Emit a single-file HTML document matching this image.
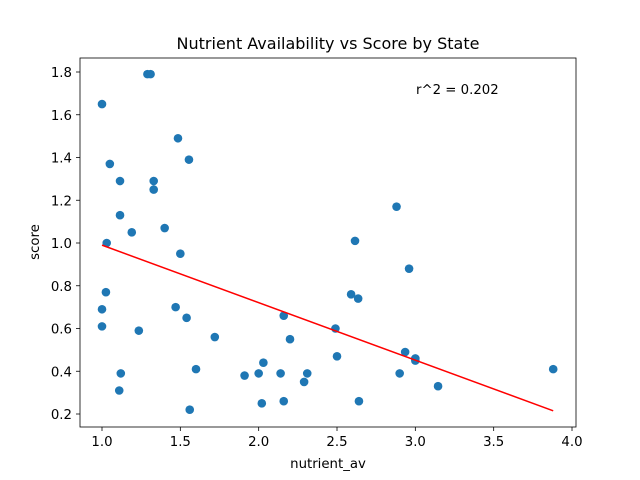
<!DOCTYPE html>
<html><head><meta charset="utf-8"><style>body{margin:0;background:#fff}svg{display:block;font-family:"DejaVu Sans","Liberation Sans",sans-serif}</style></head>
<body>
<svg id="chart" width="640" height="480"></svg>
<script>
const xs=[1.0,1.29,1.31,1.485,1.555,1.05,1.115,1.33,1.33,1.115,1.19,1.40,1.03,1.50,1.025,1.0,1.47,1.54,1.0,1.235,1.72,1.12,1.11,1.6,1.56,1.91,2.0,2.03,2.02,2.16,2.2,2.14,2.16,2.31,2.29,2.49,2.50,2.615,2.59,2.635,2.64,2.88,2.96,2.935,3.0,3.0,2.90,3.145,3.88];
const ys=[1.65,1.79,1.79,1.49,1.39,1.37,1.29,1.29,1.25,1.13,1.05,1.07,1.00,0.95,0.77,0.69,0.70,0.65,0.61,0.59,0.56,0.39,0.31,0.41,0.22,0.38,0.39,0.44,0.25,0.66,0.55,0.39,0.26,0.39,0.35,0.60,0.47,1.01,0.76,0.74,0.26,1.17,0.88,0.49,0.46,0.45,0.39,0.33,0.41];
const fitX=[1.0,3.88];
const fitY=[0.99,0.215];
const xTicks=[1.0,1.5,2.0,2.5,3.0,3.5,4.0];
const yTicks=[0.2,0.4,0.6,0.8,1.0,1.2,1.4,1.6,1.8];
const NS="http://www.w3.org/2000/svg",svg=document.getElementById('chart');
const X=v=>102+(v-1)*156.67, Y=v=>72+(1.8-v)*213.75;
function mk(t,a,txt){const e=document.createElementNS(NS,t);for(const k in a)e.setAttribute(k,a[k]);if(txt!==undefined)e.textContent=txt;svg.appendChild(e);return e;}
let e=mk('rect',{x:80,y:58,width:496,height:369,fill:'none',stroke:'#000','stroke-width':0.8});


xTicks.forEach(v=>{let l=mk('line',{x1:X(v),x2:X(v),y1:427,y2:431,stroke:'#000','stroke-width':0.8});


let t=mk('text',{x:X(v),y:446,'font-size':13.3,'text-anchor':'middle'},v.toFixed(1));

});
yTicks.forEach(v=>{let l=mk('line',{x1:76,x2:80,y1:Y(v),y2:Y(v),stroke:'#000','stroke-width':0.8});


let t=mk('text',{x:72,y:Y(v)+5,'font-size':13.3,'text-anchor':'end'},v.toFixed(1));

});
xs.forEach((v,i)=>{let c=mk('circle',{cx:X(v),cy:Y(ys[i]),r:4.3,fill:'#1f77b4'});

});
e=mk('line',{x1:X(fitX[0]),y1:Y(fitY[0]),x2:X(fitX[1]),y2:Y(fitY[1]),stroke:'red','stroke-width':1.5});


e=mk('text',{x:416,y:94,'font-size':13.3},'r^2 = 0.202');


e=mk('text',{x:328,y:49,'font-size':16,'text-anchor':'middle'},'Nutrient Availability vs Score by State');


e=mk('text',{x:328,y:468,'font-size':13.3,'text-anchor':'middle'},'nutrient_av');


e=mk('text',{x:39,y:242,'font-size':13.3,'text-anchor':'middle',transform:'rotate(-90 39 242)'},'score');


</script>
</body></html>
